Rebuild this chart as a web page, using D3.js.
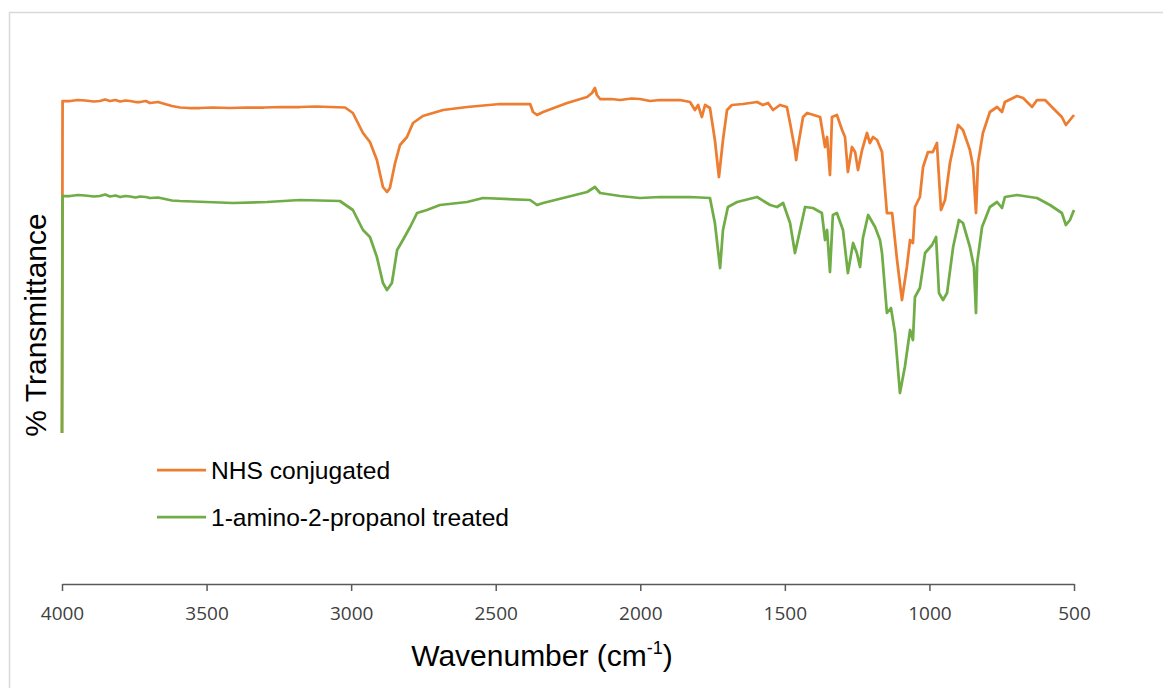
<!DOCTYPE html>
<html>
<head>
<meta charset="utf-8">
<script src="https://cdn.jsdelivr.net/npm/d3@7"></script>
<style>
  html, body { margin: 0; padding: 0; background: #fff; }
  svg { display: block; }
</style>
</head>
<body>
<svg id="chart" width="1163" height="688"></svg>
<script>
// ---------------- DATA ----------------
const seriesNames = ["NHS conjugated", "1-amino-2-propanol treated"];
const xTicks = [4000, 3500, 3000, 2500, 2000, 1500, 1000, 500];

// NHS conjugated (upper trace)
const nhsWavenumber = [4000,3998,3972,3945,3920,3890,3869,3851,3834,3815,3799,3780,3765,3745,3730,3710,3696,3668,3644,3620,3592,3560,3523,3480,3419,3360,3301,3240,3177,3120,3073,3021,2994,2959,2935,2911,2890,2876,2866,2848,2831,2807,2786,2752,2717,2682,2599,2485,2381,2371,2357,2336,2253,2184,2167,2157,2150,2139,2100,2070,2030,2001,1966,1932,1863,1828,1811,1800,1787,1776,1759,1742,1728,1714,1700,1683,1645,1596,1576,1558,1541,1517,1493,1482,1465,1461,1455,1437,1423,1378,1361,1354,1344,1337,1320,1302,1292,1282,1268,1257,1247,1233,1216,1206,1195,1181,1164,1147,1129,1112,1095,1078,1067,1057,1050,1033,1022,1005,988,974,970,960,946,929,901,884,860,849,839,832,815,791,766,749,739,697,676,645,628,600,573,542,528,514,500];
const nhsT = [30.0,96.4,96.4,96.6,96.5,96.3,96.4,96.7,96.4,96.6,96.3,96.5,96.4,96.2,96.2,96.4,96.0,96.2,95.8,95.4,95.1,95.0,95.0,95.1,95.0,95.1,95.1,95.2,95.2,95.3,95.2,95.1,94.0,90.0,88.2,84.6,79.2,78.2,79.0,84.0,87.6,89.2,92.0,93.4,94.0,94.6,95.2,95.8,95.8,94.2,93.6,94.2,96.0,97.2,98.0,99.0,97.6,96.8,96.8,96.6,96.9,96.8,96.4,96.6,96.6,96.2,94.6,95.6,93.2,95.6,95.0,88.6,81.2,88.6,94.6,95.6,95.8,96.2,95.6,96.0,94.6,95.6,95.2,92.0,86.6,84.6,87.2,93.2,94.0,93.2,87.2,89.2,81.6,93.2,93.6,90.6,89.2,82.2,87.2,86.2,82.6,86.6,90.0,88.0,89.2,88.6,86.2,74.0,74.0,64.6,56.6,63.2,68.6,68.0,75.2,77.2,83.2,86.2,86.2,88.0,84.0,74.6,76.6,84.0,91.6,90.6,86.6,83.2,74.0,84.0,90.0,94.2,95.2,94.2,96.2,97.4,97.0,95.2,96.6,96.6,95.0,93.2,91.6,92.6,93.6];

// 1-amino-2-propanol treated (lower trace)
const aminoWavenumber = [4000,3998,3972,3945,3920,3890,3869,3851,3834,3815,3799,3780,3765,3745,3730,3710,3696,3668,3644,3620,3592,3409,3291,3177,3039,2994,2959,2935,2911,2890,2876,2859,2841,2821,2796,2772,2738,2693,2599,2544,2381,2357,2336,2253,2184,2157,2139,2070,2001,1932,1863,1828,1759,1742,1724,1714,1697,1665,1596,1551,1527,1506,1482,1465,1455,1430,1403,1372,1361,1354,1344,1334,1320,1299,1282,1264,1251,1240,1230,1212,1188,1171,1164,1147,1133,1119,1102,1085,1067,1057,1050,1033,1015,991,977,967,953,939,918,898,884,860,846,839,835,818,791,766,749,739,697,652,628,583,542,528,514,500];
const aminoT = [30.0,77.4,77.4,77.6,77.5,77.3,77.4,77.7,77.3,77.5,77.2,77.4,77.3,77.1,77.3,77.2,77.0,77.1,76.8,76.5,76.4,76.0,76.2,76.6,76.4,74.6,70.6,69.2,65.2,60.0,58.6,60.0,66.6,68.6,71.2,74.0,74.6,75.6,76.2,77.0,76.6,75.6,76.0,77.2,78.2,79.2,78.0,77.4,77.0,77.2,77.2,77.2,77.0,72.0,63.0,70.6,75.2,76.2,77.2,75.6,75.2,76.0,72.0,66.0,68.6,75.2,75.0,74.0,68.6,70.6,62.2,73.6,74.0,70.6,62.0,68.0,66.0,63.2,69.0,73.6,71.2,68.6,66.0,54.0,55.0,50.0,38.0,43.2,50.6,48.6,57.2,59.0,66.0,67.6,69.2,58.0,56.6,58.0,67.2,72.6,72.0,67.2,63.2,54.0,64.0,71.2,75.2,76.2,75.0,77.2,77.6,77.2,77.0,75.6,74.0,71.6,72.6,74.6];

const colors = ["#ED7D31", "#70AD47"];

// ---------------- DRAW ----------------
const svg = d3.select("#chart");

// outer chart border
svg.append("rect")
  .attr("x", 9.5).attr("y", 12.5)
  .attr("width", 1170).attr("height", 700)
  .attr("fill", "#fff")
  .attr("stroke", "#d9d9d9").attr("stroke-width", 1.5);

const x = d3.scaleLinear().domain([4000, 500]).range([62, 1074]);
const y = d3.scaleLinear().domain([0, 110]).range([583, 33]);

// x axis
const axisG = svg.append("g").attr("transform", "translate(0,584)");
axisG.call(d3.axisBottom(x).tickValues(xTicks).tickSize(7).tickSizeOuter(0).tickFormat(d3.format("d")));
axisG.select(".domain").attr("stroke", "#595959").attr("stroke-width", 1.5);
axisG.selectAll(".tick line").attr("stroke", "#595959").attr("stroke-width", 1.5);
axisG.selectAll(".tick text")
  .attr("y", 0).attr("dy", null)
  .attr("transform", "translate(0,36)")
  .attr("fill", "#404040")
  .style("font-family", "'Open Sans', sans-serif")
  .style("font-size", "19px");

// series lines
const series = [
  { wn: nhsWavenumber, t: nhsT },
  { wn: aminoWavenumber, t: aminoT }
];
const line = d3.line().x(d => x(d[0])).y(d => y(d[1]));
series.forEach((s, i) => {
  const pts = s.wn.map((w, k) => [w, s.t[k]]);
  svg.append("path")
    .datum(pts)
    .attr("fill", "none")
    .attr("stroke", colors[i])
    .attr("stroke-width", 2.75)
    .attr("stroke-linejoin", "round")
    .attr("d", line);
});

// axis titles
const xt = svg.append("text")
  .attr("x", 542).attr("y", 666)
  .attr("text-anchor", "middle")
  .attr("fill", "#000")
  .style("font-family", "'Liberation Sans', Arial, sans-serif")
  .style("font-size", "30px");
xt.append("tspan").text("Wavenumber (cm");
xt.append("tspan").attr("dy", -12).style("font-size", "18px").text("-1");
xt.append("tspan").attr("dy", 12).text(")");

svg.append("text")
  .attr("transform", "translate(46,325) rotate(-90)")
  .attr("text-anchor", "middle")
  .attr("fill", "#000")
  .style("font-family", "'Liberation Sans', Arial, sans-serif")
  .style("font-size", "30px")
  .text("% Transmittance");

// legend
const legend = svg.append("g");
seriesNames.forEach((name, i) => {
  const ly = 470 + i * 47;
  legend.append("line")
    .attr("x1", 157).attr("x2", 206)
    .attr("y1", ly).attr("y2", ly)
    .attr("stroke", colors[i]).attr("stroke-width", 2.75);
  legend.append("text")
    .attr("x", 211).attr("y", ly + 9)
    .attr("fill", "#000")
    .style("font-family", "'Liberation Sans', Arial, sans-serif")
    .style("font-size", "24.6px")
    .text(name);
});
</script>
</body>
</html>
